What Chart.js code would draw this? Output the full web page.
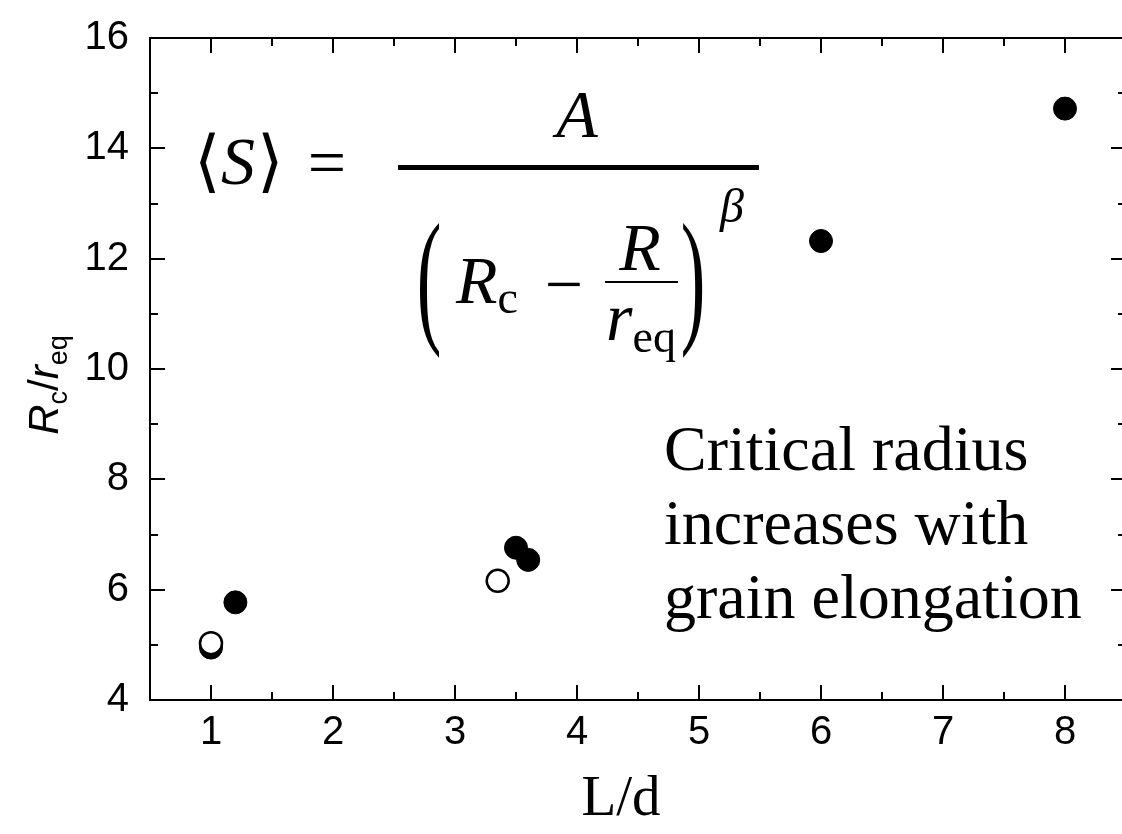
<!DOCTYPE html>
<html>
<head>
<meta charset="utf-8">
<title>Critical radius vs L/d</title>
<script src="https://cdn.jsdelivr.net/npm/chart.js@4.4.1/dist/chart.umd.min.js"></script>
<style>
  html, body { margin: 0; padding: 0; background: #fff; overflow: hidden; }
  #wrap { position: absolute; left: 0; top: 0; width: 1135px; height: 834px; }
</style>
</head>
<body>
<div id="wrap"><canvas id="chart" width="1135" height="834"></canvas></div>
<script>
// Filled symbols (Rc/req against L/d)
const filledX = [1.0, 1.2, 3.5, 3.6, 6.0, 8.0];
const filledY = [4.95, 5.77, 6.76, 6.54, 12.32, 14.72];
// Open symbols
const openX = [1.0, 3.35];
const openY = [5.03, 6.16];

const xTicks = [1, 2, 3, 4, 5, 6, 7, 8];
const yTicks = [4, 6, 8, 10, 12, 14, 16];
const noteLines = ['Critical radius', 'increases with', 'grain elongation'];

const SANS = '"Liberation Sans", Arial, sans-serif';
const SERIF = '"Liberation Serif", "Times New Roman", serif';

function toPoints(xs, ys) {
  return xs.map((x, i) => ({ x: x, y: ys[i] }));
}

// Box frame with inward major/minor ticks on all four sides
const frameTicks = {
  id: 'frameTicks',
  afterDraw(chart) {
    const { ctx, chartArea: a, scales: { x, y } } = chart;
    const major = 15, minor = 8;
    ctx.save();
    ctx.strokeStyle = '#000';
    ctx.lineWidth = 2;
    ctx.strokeRect(a.left, a.top, a.right - a.left, a.bottom - a.top);
    ctx.beginPath();
    for (let v = x.min; v <= x.max + 1e-9; v += 0.5) {
      if (v === x.min || v === x.max) continue;
      const len = Number.isInteger(v) ? major : minor;
      const px = Math.round(x.getPixelForValue(v));
      ctx.moveTo(px, a.bottom); ctx.lineTo(px, a.bottom - len);
      ctx.moveTo(px, a.top); ctx.lineTo(px, a.top + len);
    }
    for (let v = y.min + 1; v < y.max; v += 1) {
      const len = v % 2 === 0 ? major : minor;
      const py = Math.round(y.getPixelForValue(v));
      ctx.moveTo(a.left, py); ctx.lineTo(a.left + len, py);
      ctx.moveTo(a.right, py); ctx.lineTo(a.right - len, py);
    }
    ctx.stroke();
    ctx.restore();
  }
};

function runText(ctx, parts, x, y) {
  // draws a sequence of {t, f, dy} pieces starting at x on baseline y
  let cx = x;
  parts.forEach(p => {
    ctx.font = p.f;
    ctx.fillText(p.t, cx, y + (p.dy || 0));
    cx += ctx.measureText(p.t).width + (p.gap || 0);
  });
  return cx;
}

function runWidth(ctx, parts) {
  let w = 0;
  parts.forEach(p => {
    ctx.font = p.f;
    w += ctx.measureText(p.t).width + (p.gap || 0);
  });
  return w;
}

function stretchedParen(ctx, ch, cx, cy, h, font) {
  ctx.save();
  ctx.font = font;
  ctx.textAlign = 'center';
  ctx.textBaseline = 'alphabetic';
  const m = ctx.measureText(ch);
  const gh = m.actualBoundingBoxAscent + m.actualBoundingBoxDescent;
  const sy = h / gh;
  ctx.translate(cx, cy);
  ctx.scale(1, sy);
  ctx.fillText(ch, 0, (m.actualBoundingBoxAscent - m.actualBoundingBoxDescent) / 2);
  ctx.restore();
}

// Axis titles, formula and note
const textLayer = {
  id: 'textLayer',
  afterDraw(chart) {
    const { ctx } = chart;
    ctx.save();
    ctx.fillStyle = '#000';
    ctx.textBaseline = 'alphabetic';
    ctx.textAlign = 'left';

    // x title
    ctx.font = '57px ' + SERIF;
    ctx.textAlign = 'center';
    ctx.fillText('L/d', 621, 815);
    ctx.textAlign = 'left';

    // y title, rotated
    const yTitle = [
      { t: 'R', f: 'italic 42px ' + SANS },
      { t: 'c', f: '27px ' + SANS, dy: 9 },
      { t: '/', f: '42px ' + SANS },
      { t: 'r', f: 'italic 42px ' + SANS },
      { t: 'eq', f: '27px ' + SANS, dy: 9 }
    ];
    ctx.save();
    ctx.translate(58, 385);
    ctx.rotate(-Math.PI / 2);
    runText(ctx, yTitle, -runWidth(ctx, yTitle) / 2, 0);
    ctx.restore();

    // <S> = A / (Rc - R/req)^beta
    const big = 68, small = 46;
    runText(ctx, [
      { t: '\u27E8', f: big + 'px ' + SERIF },
      { t: 'S', f: 'italic ' + big + 'px ' + SERIF, gap: 2 },
      { t: '\u27E9', f: big + 'px ' + SERIF }
    ], 194, 184);
    ctx.font = big + 'px ' + SERIF;
    ctx.textAlign = 'center';
    ctx.fillText('=', 327, 185);
    ctx.font = 'italic ' + big + 'px ' + SERIF;
    ctx.fillText('A', 577, 137);
    ctx.textAlign = 'left';
    ctx.fillRect(398, 165, 361, 5);

    stretchedParen(ctx, '(', 429, 290, 136, '74px ' + SERIF);
    stretchedParen(ctx, ')', 693, 290, 136, '74px ' + SERIF);

    runText(ctx, [
      { t: 'R', f: 'italic ' + big + 'px ' + SERIF },
      { t: 'c', f: small + 'px ' + SERIF, dy: 10 }
    ], 456, 303);
    ctx.font = big + 'px ' + SERIF;
    ctx.textAlign = 'center';
    ctx.fillText('\u2212', 564, 307);
    ctx.font = 'italic ' + big + 'px ' + SERIF;
    ctx.fillText('R', 640, 270);
    ctx.textAlign = 'left';
    ctx.fillRect(605, 281, 73, 2);
    runText(ctx, [
      { t: 'r', f: 'italic ' + big + 'px ' + SERIF, gap: 0 },
      { t: 'eq', f: small + 'px ' + SERIF, dy: 12 }
    ], 606, 340);
    ctx.font = 'italic ' + 48 + 'px ' + SERIF;
    ctx.fillText('\u03B2', 720, 222);

    // note on the right
    ctx.font = '64px ' + SERIF;
    noteLines.forEach((line, i) => {
      ctx.fillText(line, 664, 470 + i * 74);
    });
    ctx.restore();
  }
};

const ctx = document.getElementById('chart').getContext('2d');
const chart = new Chart(ctx, {
  type: 'scatter',
  data: {
    datasets: [
      {
        label: 'open',
        data: toPoints(openX, openY),
        pointRadius: 11,
        borderWidth: 2.5,
        borderColor: '#000',
        backgroundColor: '#fff'
      },
      {
        label: 'filled',
        data: toPoints(filledX, filledY),
        pointRadius: 11.5,
        borderWidth: 1,
        borderColor: '#000',
        backgroundColor: '#000'
      }
    ]
  },
  options: {
    responsive: false,
    animation: false,
    devicePixelRatio: 1,
    layout: { autoPadding: false, padding: { top: 38, right: 9, left: 0, bottom: 0 } },
    plugins: {
      legend: { display: false },
      tooltip: { enabled: false }
    },
    scales: {
      x: {
        type: 'linear',
        min: 0.5,
        max: 8.5,
        afterBuildTicks: s => { s.ticks = xTicks.map(v => ({ value: v })); },
        afterFit: s => { s.height = 134; s.paddingLeft = 0; s.paddingRight = 0; },
        grid: { display: false, drawTicks: false },
        border: { display: false },
        ticks: { color: '#000', font: { family: SANS, size: 40 }, padding: 9 }
      },
      y: {
        type: 'linear',
        min: 4,
        max: 16,
        afterBuildTicks: s => { s.ticks = yTicks.map(v => ({ value: v })); },
        afterFit: s => { s.width = 150; s.paddingTop = 0; s.paddingBottom = 0; },
        grid: { display: false, drawTicks: false },
        border: { display: false },
        ticks: { color: '#000', font: { family: SANS, size: 40 }, padding: 21 }
      }
    }
  },
  plugins: [frameTicks, textLayer]
});
</script>
</body>
</html>
